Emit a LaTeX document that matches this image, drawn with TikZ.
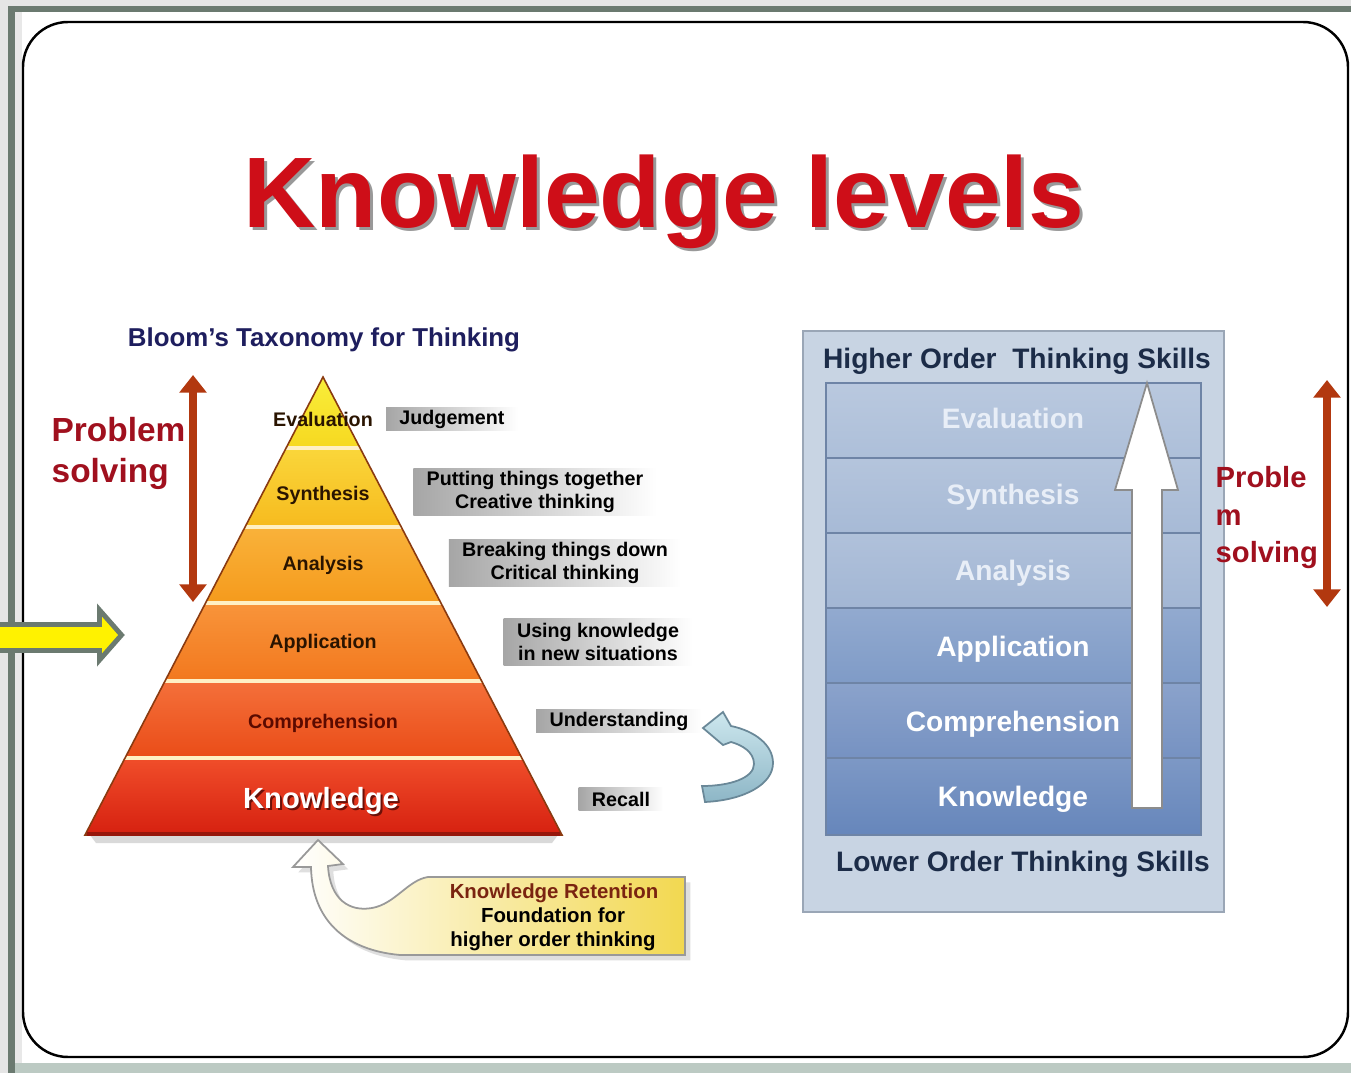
\documentclass[tikz,border=0pt]{standalone}
\usepackage{fontspec}
\setmainfont{Liberation Sans}
\usetikzlibrary{arrows.meta,shadows}

\definecolor{framegreen}{HTML}{6B7A70}
\definecolor{bottomgrey}{HTML}{BCCAC3}
\definecolor{titlered}{HTML}{CE0E18}
\definecolor{navy}{HTML}{1E1E5E}
\definecolor{probred}{HTML}{A0101E}
\definecolor{arrowbrown}{HTML}{B2380F}
\definecolor{pytext}{HTML}{2A1400}
\definecolor{comptext}{HTML}{5A0A00}
\definecolor{pyedge}{HTML}{8A3A10}
\definecolor{cream}{HTML}{FFF0C4}
\definecolor{ev1}{HTML}{F9EE3A}\definecolor{ev2}{HTML}{F6D820}
\definecolor{sy1}{HTML}{FAD63A}\definecolor{sy2}{HTML}{F6BA1E}
\definecolor{an1}{HTML}{F9B23A}\definecolor{an2}{HTML}{F59A1C}
\definecolor{ap1}{HTML}{F8943A}\definecolor{ap2}{HTML}{F2781E}
\definecolor{co1}{HTML}{F4703A}\definecolor{co2}{HTML}{EA4C18}
\definecolor{kn1}{HTML}{F04E2A}\definecolor{kn2}{HTML}{D62010}
\definecolor{boxblue}{HTML}{C8D4E3}
\definecolor{boxedge}{HTML}{9AA6B6}
\definecolor{bandline}{HTML}{6E84A6}
\definecolor{bl1}{HTML}{ADBFD9}\definecolor{bl2}{HTML}{A7BAD6}
\definecolor{bl3}{HTML}{A2B6D4}\definecolor{bl4}{HTML}{7F9BC7}
\definecolor{bl5}{HTML}{7692C2}\definecolor{bl6}{HTML}{6686BB}
\definecolor{skilltext}{HTML}{1C2C48}
\definecolor{lvltop}{HTML}{E8EEF7}
\definecolor{curl1}{HTML}{CDE7EE}\definecolor{curl2}{HTML}{8DB6C6}
\definecolor{curledge}{HTML}{6A8898}
\definecolor{retyellow}{HTML}{F2D850}
\definecolor{retbrown}{HTML}{7A2410}

\begin{document}
\begin{tikzpicture}[
    x=0.01cm, y=-0.01cm,
    every node/.style={inner sep=0pt},
    pylabel/.style={anchor=base, text=pytext, font=\fontsize{5.6}{6.6}\selectfont\bfseries},
    descbox/.style={left color=gray!70, right color=white, text=black, inner xsep=3.8pt,
        minimum height=0.22cm, align=center, font=\fontsize{5.6}{6.6}\selectfont\bfseries},
    lvl/.style={anchor=base, text=white, font=\fontsize{8}{9}\selectfont\bfseries},
    probtext/.style={anchor=base west, text=probred, font=\bfseries},
    dblarrow/.style={draw=arrowbrown, line width=2.2pt,
        {Triangle[width=7.5pt,length=5pt]}-{Triangle[width=7.5pt,length=5pt]}},
    rettext/.style={anchor=base, font=\fontsize{5.8}{6.8}\selectfont\bfseries}
]
\useasboundingbox (0,0) rectangle (1351,1073);

\fill[black!10] (0,0) rectangle (1351,1073);
\fill[framegreen] (8,6) rectangle (1351,1073);
\fill[white] (15,12) rectangle (1351,1063);
\fill[black!9] (15,12) rectangle (22,1063);
\fill[bottomgrey] (15,1063) rectangle (1351,1073);
\draw[line width=0.7pt, rounded corners=0.45cm] (23,22) rectangle (1348,1057);

\node[anchor=base, text=black!40, font=\fontsize{28.5}{30}\selectfont\bfseries] (titlesh) at (667,231) {Knowledge levels};
\node[anchor=base, text=titlered, font=\fontsize{28.5}{30}\selectfont\bfseries] (title) at (664,228) {Knowledge levels};

\node[anchor=base, text=navy, font=\fontsize{7.35}{8}\selectfont\bfseries] (bloom) at (324,347) {Bloom's Taxonomy for Thinking};

\fill[black!15] (90,835) -- (558,835) -- (552,843) -- (96,843) -- cycle;
\begin{scope}
  \clip (323,377) -- (85,835) -- (562,835) -- cycle;
  \foreach \ya/\yb/\ca/\cb in {377/449/ev1/ev2, 449/528/sy1/sy2, 528/604/an1/an2,
                               604/681/ap1/ap2, 681/758/co1/co2, 758/835/kn1/kn2}
    \shade[top color=\ca, bottom color=\cb] (80,\ya) rectangle (570,\yb);
  \foreach \y in {448,527,603,681,758}
    \draw[cream, line width=1.2pt] (80,\y) -- (570,\y);
\end{scope}
\draw[pyedge, line width=0.45pt] (323,377) -- (85,835) -- (562,835) -- cycle;
\draw[kn2!70!black, line width=1pt] (87,834) -- (560,834);

\node[pylabel] (pev) at (323,426) {Evaluation};
\node[pylabel] (psy) at (323,500) {Synthesis};
\node[pylabel] (pan) at (323,570) {Analysis};
\node[pylabel] (pap) at (323,648) {Application};
\node[pylabel, text=comptext] (pco) at (323,728) {Comprehension};
\node[anchor=base, text=kn2!50!black, font=\fontsize{8.3}{9}\selectfont\bfseries] (pknsh) at (323,810) {Knowledge};
\node[anchor=base, text=white, font=\fontsize{8.3}{9}\selectfont\bfseries] (pkn) at (321,808) {Knowledge};

\node[descbox] (djudge) at (452,419) {Judgement};
\node[descbox, minimum height=0.47cm] (dput) at (535,492) {Putting things together\\Creative thinking};
\node[descbox, minimum height=0.47cm] (dbreak) at (565,563) {Breaking things down\\Critical thinking};
\node[descbox, minimum height=0.47cm] (duse) at (598,642) {Using knowledge\\in new situations};
\node[descbox] (dunder) at (619,721) {Understanding};
\node[descbox] (drecall) at (621,799) {Recall};

\node[probtext, font=\fontsize{9.5}{11}\selectfont\bfseries] (probl) at (51,441) {Problem};
\node[probtext, font=\fontsize{9.5}{11}\selectfont\bfseries] (solvl) at (51,482) {solving};
\coordinate (plt) at (193,375);
\coordinate (plb) at (193,602);
\draw[dblarrow] (plt) -- (plb);

\draw[framegreen, fill=yellow, line width=1.4pt] (-5,624.5) -- (99.5,624.5) -- (99.5,610)
  -- (121.5,635) -- (99.5,660) -- (99.5,650.5) -- (-5,650.5) -- cycle;

\draw[curledge, line width=0.5pt, top color=curl1, bottom color=curl2]
  (703,728) -- (723,712) -- (731,726)
  .. controls (755,731) and (773,745) .. (773,763)
  .. controls (773,784) and (745,800) .. (705,802)
  -- (702,786)
  .. controls (730,786) and (754,778) .. (754,764)
  .. controls (754,752) and (742,745) .. (731,742)
  -- (723,745) -- cycle;

\path[draw=black!40, line width=0.5pt, left color=white, right color=retyellow,
      drop shadow={opacity=0.25, shadow xshift=1.5pt, shadow yshift=-1.5pt}]
  (318,840) -- (343,864) -- (328,866)
  .. controls (330,900) and (350,912) .. (372,908)
  .. controls (395,904) and (408,880) .. (428,877)
  -- (685,877) -- (685,955) -- (400,955)
  .. controls (345,950) and (312,920) .. (311,867)
  -- (293,867) -- cycle;
\node[rettext, text=retbrown] (ret1) at (554,898) {Knowledge Retention};
\node[rettext] (ret2) at (553,922) {Foundation for};
\node[rettext] (ret3) at (553,946) {higher order thinking};

\draw[boxedge, fill=boxblue, line width=0.5pt] (803,331) rectangle (1224,912);
\foreach \ya/\yb/\c in {383/458/bl1, 458/533/bl2, 533/608/bl3, 608/683/bl4, 683/758/bl5, 758/835/bl6}
  \shade[top color=\c!85!white, bottom color=\c] (826,\ya) rectangle (1201,\yb);
\foreach \y in {458,533,608,683,758}
  \draw[bandline, line width=0.4pt] (826,\y) -- (1201,\y);
\draw[bandline, line width=0.4pt] (826,383) rectangle (1201,835);
\draw[black!45, fill=white, line width=0.5pt] (1132,808) -- (1132,490) -- (1115,490) -- (1147,383)
  -- (1178,490) -- (1162,490) -- (1162,808) -- cycle;

\node[anchor=base, text=skilltext, font=\fontsize{8}{9}\selectfont\bfseries] (higher) at (1017,368) {Higher Order~ Thinking Skills};
\node[anchor=base, text=skilltext, font=\fontsize{8}{9}\selectfont\bfseries] (lower) at (1023,871) {Lower Order Thinking Skills};
\node[lvl, text=lvltop] (lev) at (1013,428) {Evaluation};
\node[lvl, text=lvltop] (lsy) at (1013,504) {Synthesis};
\node[lvl, text=lvltop] (lan) at (1013,580) {Analysis};
\node[lvl] (lap) at (1013,656) {Application};
\node[lvl] (lco) at (1013,731) {Comprehension};
\node[lvl] (lkn) at (1013,806) {Knowledge};

\node[probtext, font=\fontsize{8.3}{9}\selectfont\bfseries] (probr) at (1215,488) {Proble};
\node[probtext, font=\fontsize{8.3}{9}\selectfont\bfseries] (probm) at (1215,525) {m};
\node[probtext, font=\fontsize{8.3}{9}\selectfont\bfseries] (solvr) at (1215,562) {solving};
\coordinate (prt) at (1327,380);
\coordinate (prb) at (1327,607);
\draw[dblarrow] (prt) -- (prb);
\end{tikzpicture}
\end{document}
